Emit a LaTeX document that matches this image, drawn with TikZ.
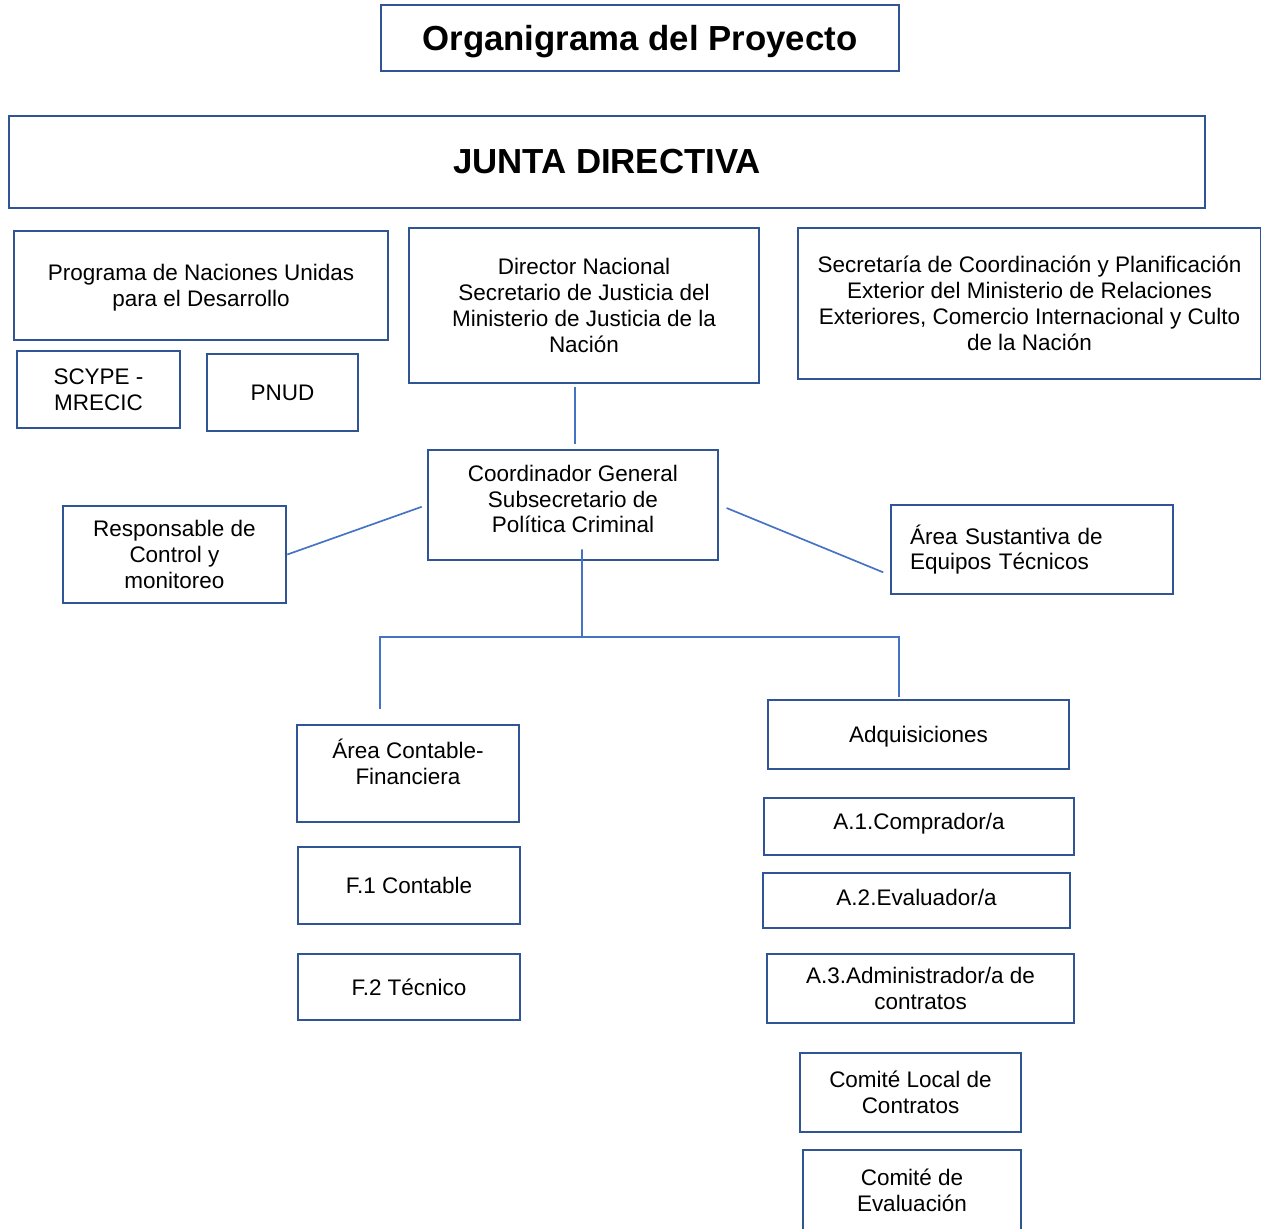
\documentclass[tikz,border=0pt]{standalone}
\usepackage{fontspec}
\setmainfont{Liberation Sans}
\definecolor{boxblue}{RGB}{47,85,151}
\definecolor{lineblue}{RGB}{68,114,196}

\begin{document}
\begin{tikzpicture}[x=0.02cm,y=-0.02cm,
  txt/.style={align=center,inner sep=0pt,font=\fontsize{12.8}{14.7}\selectfont},
  box/.style={txt,draw=boxblue,line width=1.5pt},
  head/.style={box,font=\fontsize{19.8}{23}\selectfont\bfseries},
  conn/.style={draw=lineblue,line width=0.95pt}]
\useasboundingbox (0,0) rectangle (1261,1228);

\node[head,text depth=0pt,minimum width=10.36cm,minimum height=1.32cm] (title) at (640,38) {Organigrama del Proyecto};
\node[head,minimum width=23.92cm,minimum height=1.84cm] (junta) at (607,162) {JUNTA DIRECTIVA};

\node[box,minimum width=7.48cm,minimum height=2.18cm] (undp) at (201,285.5) {};
\node[txt] (undp-t) at (201,287.5) {Programa de Naciones Unidas\\para el Desarrollo};
\node[box,minimum width=3.26cm,minimum height=1.54cm] (scype) at (98.5,389.5) {SCYPE -\\MRECIC};
\node[box,minimum width=3.02cm,minimum height=1.54cm] (pnud) at (282.5,392.5) {PNUD};
\node[box,minimum width=7.00cm,minimum height=3.10cm] (director) at (584,305.5) {Director Nacional\\Secretario de Justicia del\\Ministerio de Justicia de la\\Naci\'on};
\node[box,minimum width=9.26cm,minimum height=3.02cm] (secret) at (1029.5,303.5) {Secretar\'ia de Coordinaci\'on y Planificaci\'on\\Exterior del Ministerio de Relaciones\\Exteriores, Comercio Internacional y Culto\\de la Naci\'on};

\node[box,minimum width=5.80cm,minimum height=2.20cm] (coord) at (573,505) {};
\node[txt] (coord-t) at (573,499) {Coordinador General\\Subsecretario de\\Pol\'itica Criminal};
\node[box,minimum width=4.46cm,minimum height=1.94cm] (resp) at (174.5,554.5) {Responsable de\\Control y\\monitoreo};
\node[box,align=left,text width=4.88cm,minimum width=5.64cm,minimum height=1.78cm] (sust) at (1032,549.5) {\'Area Sustantiva de\\Equipos T\'ecnicos};

\node[box,minimum width=4.44cm,minimum height=1.94cm] (cont) at (408,773.5) {};
\node[txt] (cont-t) at (408,762) {\'Area Contable-\\Financiera};
\node[box,minimum width=4.44cm,minimum height=1.54cm] (f1) at (409,885.5) {F.1 Contable};
\node[box,minimum width=4.44cm,minimum height=1.32cm] (f2) at (409,987) {F.2 T\'ecnico};

\node[box,text depth=0pt,minimum width=6.02cm,minimum height=1.38cm] (adq) at (918.5,734.5) {Adquisiciones};
\node[box,minimum width=6.20cm,minimum height=1.14cm] (a1) at (919,826.5) {};
\node[txt] (a1-t) at (919,823.5) {A.1.Comprador/a};
\node[box,minimum width=6.14cm,minimum height=1.10cm] (a2) at (916.5,900.5) {};
\node[txt] (a2-t) at (916.5,897.5) {A.2.Evaluador/a};
\node[box,minimum width=6.14cm,minimum height=1.38cm] (a3) at (920.5,988.5) {A.3.Administrador/a de\\contratos};
\node[box,minimum width=4.42cm,minimum height=1.58cm] (clc) at (910.5,1092.5) {Comit\'e Local de\\Contratos};
\node[box,minimum width=4.36cm,minimum height=2.00cm] (ceval) at (912,1200) {};
\node[txt] (ceval-t) at (912,1190.5) {Comit\'e de\\Evaluaci\'on};

\coordinate (bus) at (582,637);
\draw[conn] ([xshift=0.04cm,yshift=-0.06cm]coord.north |- director.south) -- ([xshift=0.04cm,yshift=0.1cm]coord.north);
\draw[conn,shorten <=3pt] (coord.west) -- (resp.east);
\draw[conn,shorten <=4.5pt,shorten >=4pt] (coord.east) -- ([yshift=-0.51cm]sust.west);
\draw[conn] ([xshift=0.18cm,yshift=0.24cm]coord.south) -- (bus);
\draw[conn] ([xshift=-0.56cm,yshift=0.3cm]cont.north) |- (bus) -| ([xshift=-0.39cm,yshift=0.04cm]adq.north);
\end{tikzpicture}
\end{document}
